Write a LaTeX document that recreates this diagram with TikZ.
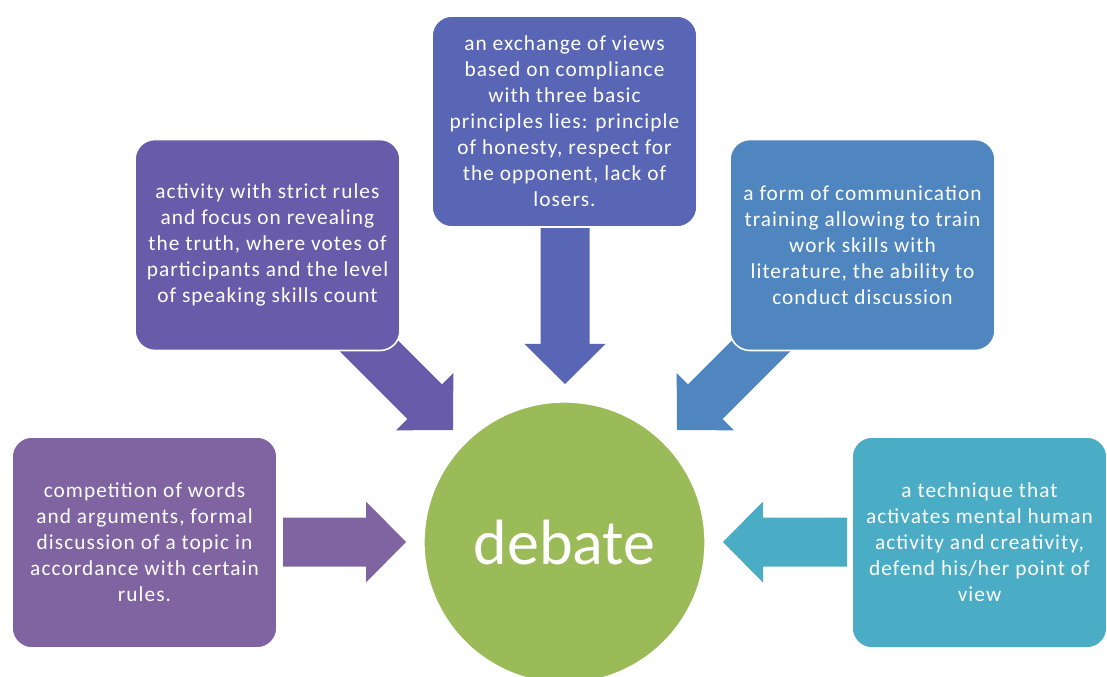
\documentclass[tikz,border=0pt]{standalone}
\usepackage{fontspec}
\setmainfont{Carlito}
\newfontfamily\boxfont[LetterSpace=5]{Carlito}
\definecolor{cL}{RGB}{128,100,162}
\definecolor{cTL}{RGB}{104,92,170}
\definecolor{cT}{RGB}{89,102,181}
\definecolor{cTR}{RGB}{79,134,192}
\definecolor{cR}{RGB}{75,172,198}
\definecolor{cC}{RGB}{155,187,89}
\newcommand{\blockarrow}[4]{%
  \fill[#1, shift={(#2)}, rotate=#3] (0,0) -- (-40,40.5) -- (-40,24.5) -- (-#4,24.5) -- (-#4,-24.5) -- (-40,-24.5) -- (-40,-40.5) -- cycle;}
\tikzset{
  infobox/.style={draw=white, line width=1.2pt, rounded corners=15pt,
    minimum width=198.75pt, minimum height=158.25pt, text=white,
    align=center, inner sep=2pt,
    font=\boxfont\fontsize{16pt}{19.5pt}\selectfont},
  hub/.style={circle, draw=white, line width=1pt, fill=cC, minimum size=210.75pt,
    inner sep=0pt, text=white, font=\fontsize{48pt}{56pt}\selectfont}
}
\begin{document}
\begin{tikzpicture}[x=0.75pt,y=-0.75pt]
\useasboundingbox (0,0) rectangle (1107,677);
\clip (0,0) rectangle (1107,677);
\node[hub] (deb) at (564.5,542.5) {debate};
% arrow tips
\coordinate (tL) at (406,542);
\coordinate (tR) at (723,542);
\coordinate (tT) at (565,384);
\coordinate (tTL) at (453,430);
\coordinate (tTR) at (677,430);
\blockarrow{cL}{tL}{0}{123}
\blockarrow{cR}{tR}{180}{124}
\blockarrow{cT}{tT}{-90}{170}
\blockarrow{cTL}{tTL}{-45}{140}
\blockarrow{cTR}{tTR}{-135}{140}
% boxes
\node[infobox, fill=cL] (bL) at (144.5,542.5) {competition of words\\ and arguments, formal\\ discussion of a topic in\\ accordance with certain\\ rules.};
\node[infobox, fill=cTL] (bTL) at (267.5,245) {activity with strict rules\\ and focus on revealing\\ the truth, where votes of\\ participants and the level\\ of speaking skills count};
\node[infobox, fill=cT] (bT) at (564.5,121.5) {an exchange of views\\ based on compliance\\ with three basic\\ principles lies: principle\\ of honesty, respect for\\ the opponent, lack of\\ losers.};
\node[infobox, fill=cTR] (bTR) at (862.5,245) {a form of communication\\ training allowing to train\\ work skills with\\ literature, the ability to\\ conduct discussion};
\node[infobox, fill=cR, minimum width=191.25pt] (bR) at (979.5,542.5) {a technique that\\ activates mental human\\ activity and creativity,\\ defend his/her point of\\ view};
\end{tikzpicture}
\end{document}
